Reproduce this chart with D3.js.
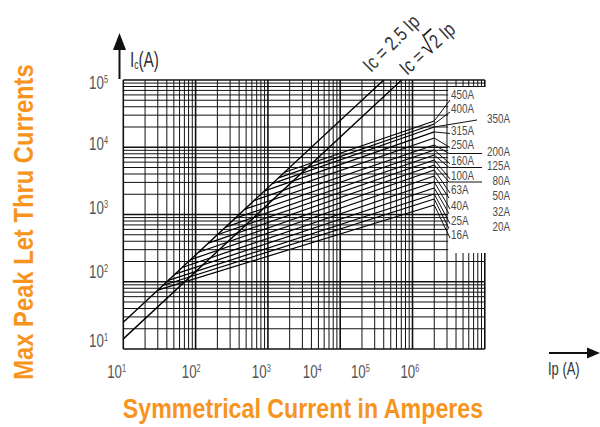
<!DOCTYPE html>
<html><head><meta charset="utf-8">
<script src="https://cdn.jsdelivr.net/npm/d3@7"></script>
<style>body{margin:0;background:#fff}svg{display:block}</style>
</head><body><svg id="c" width="600" height="427"></svg>
<script>
// ---------------- data ----------------
const ratings = ["16A","20A","25A","32A","40A","50A","63A","80A","100A","125A","160A","200A","250A","315A","350A","400A","450A"];
// point where each cut-off line leaves the Ic = 2.5 Ip line
const startIp = [30, 35, 42, 52, 65, 85, 110, 150, 200, 260, 350, 480, 650, 900, 1150, 1400, 1700];
const startIc = [75, 88, 105, 130, 163, 213, 275, 375, 500, 650, 875, 1200, 1625, 2250, 2875, 3500, 4250];
// end of each cut-off line
const endIp = [2e5,2e5,2e5,2e5,2e5,2e5,2e5,2e5,2e5,2e5,2e5,2e5,2e5,2e5,2e5,2e5,2e5];
const endIc = [1384, 1699, 2018, 2478, 3043, 3738, 4591, 5450, 6463, 7667, 9100, 10800, 13700, 16900, 20000, 22200, 24600];
// limit lines
const limitNames = ["Ic = 2.5 Ip", "Ic = √2 Ip"];
const limitIp = [[10, 40000], [10, 70711]];
const limitIc = [[25, 1e5], [14.14, 1e5]];
// tick labels
const xTickExp = ["1","2","3","4","5","6"];
const xTickAt = [8.1, 87, 810, 4100, 19000, 92000];   // where the printed labels sit
const yTickExp = ["1","2","3","4","5"];
const yTickAt = [13.6, 140, 1250, 11200, 92000];

// ---------------- layout ----------------
const FONT = "'Liberation Sans', Arial, Helvetica, sans-serif";
const ORANGE = "#F7941D";
const svg = d3.select("#c");
const x = d3.scaleLog().domain([10, 1e6]).range([123.3, 484.8]);
const y = d3.scaleLog().domain([10, 1e5]).range([349, 80]);

// label layout (side and vertical position of each rating label)
const labelSide = ["L","R","L","R","L","R","L","R","L","R","L","R","L","L","R","L","L"];
const labelY   = [235, 226.7, 220.7, 211.7, 206, 196, 190, 180.5, 176, 166, 160.7, 152, 144.5, 130.5, 119, 109, 95];

// ---------------- grid ----------------
const g = svg.append("g");
const vVals = [], hVals = [];
for (let d = 1; d <= 5; d++) for (let k = 1; k <= 9; k++) vVals.push(k * Math.pow(10, d));
vVals.push(1e6);
for (let d = 1; d <= 4; d++) for (let k = 1; k <= 9; k++) hVals.push(k * Math.pow(10, d));
hVals.push(1e5);
const isMajor = v => Math.abs(Math.log10(v) - Math.round(Math.log10(v))) < 1e-9;

g.selectAll("line.v").data(vVals).join("line")
  .attr("x1", d => x(d)).attr("x2", d => x(d))
  .attr("y1", y(1e5)).attr("y2", y(10))
  .attr("stroke", "#111").attr("stroke-width", d => isMajor(d) ? 1.6 : 1);
g.selectAll("line.h").data(hVals).join("line")
  .attr("y1", d => y(d)).attr("y2", d => y(d))
  .attr("x1", x(10)).attr("x2", x(1e6))
  .attr("stroke", "#111").attr("stroke-width", d => isMajor(d) ? 1.6 : 1);

// white label box on the right
svg.append("rect").attr("x", x(3e5) + 1.2).attr("y", 87)
  .attr("width", 50).attr("height", 166).attr("fill", "#fff");

// ---------------- curves ----------------
const line = d3.line().x(d => x(d[0])).y(d => y(d[1]));
svg.append("g").selectAll("path").data(limitIp.map((ips, i) => ips.map((p, j) => [p, limitIc[i][j]])))
  .join("path").attr("d", line).attr("fill", "none").attr("stroke", "#000").attr("stroke-width", 1.4);

const curves = ratings.map((r, i) => [[startIp[i], startIc[i]], [endIp[i], endIc[i]]]);
svg.append("g").selectAll("path").data(curves).join("path")
  .attr("d", line).attr("fill", "none").attr("stroke", "#000").attr("stroke-width", 1.2);

// ---------------- rating labels + leaders ----------------
const lg = svg.append("g");
ratings.forEach((r, i) => {
  const ex = x(endIp[i]), ey = y(endIc[i]);
  const ly = labelY[i];
  let pts;
  if (labelSide[i] === "L") {
    pts = [[ex, ey], [450, ly + (i === 16 ? 5 : 3)]];
  } else if (r === "350A") {
    pts = [[ex, ey], [477, ly + 1]];
  } else if (r === "200A" || r === "125A" || r === "80A") {
    pts = [[ex, ey], [449, ly + 1.5], [482, ly + 1.5]];
  } else {
    pts = [[ex, ey], [449, ly + 2]];
  }
  lg.append("path").attr("d", d3.line()(pts)).attr("fill", "none")
    .attr("stroke", "#111").attr("stroke-width", 1);
  const tx = labelSide[i] === "L" ? 451 : 510;
  lg.append("g").attr("transform", `translate(${tx},${ly + 4.3}) scale(0.82,1)`)
    .append("text").attr("font-family", FONT).attr("font-size", 12)
    .attr("fill", "#4a4a4a").attr("text-anchor", labelSide[i] === "L" ? "start" : "end")
    .text(r);
});

// ---------------- diagonal labels ----------------
function rotLabel(px, py, ang) {
  return svg.append("g").attr("transform", `translate(${px},${py}) rotate(${ang}) scale(0.8,1)`);
}
rotLabel(371, 73, -45).append("text").attr("font-family", FONT)
  .attr("font-size", 20).attr("fill", "#333").text(limitNames[0]);
{
  const gg = rotLabel(407, 76, -42);
  const t1 = gg.append("text").attr("font-family", FONT).attr("font-size", 20).attr("fill", "#333").text("Ic = ");
  const w1 = t1.node().getComputedTextLength() + 3;
  const t2 = gg.append("text").attr("x", w1).attr("font-family", FONT).attr("font-size", 26).attr("fill", "#111").text("√");
  const w2 = t2.node().getComputedTextLength();
  gg.append("text").attr("x", w1 + w2).attr("font-family", FONT).attr("font-size", 20).attr("fill", "#333").text("2 Ip");
  const w3 = gg.append("text").attr("font-size", 20).attr("font-family", FONT).attr("opacity", 0).text("2").node().getComputedTextLength();
  gg.append("line").attr("x1", w1 + w2 - 0.5).attr("x2", w1 + w2 + w3 + 1).attr("y1", -19).attr("y2", -19)
    .attr("stroke", "#111").attr("stroke-width", 1.6);
}

// ---------------- tick labels ----------------
function powLabel(parent, px, py, exp, anchor) {
  const t = parent.append("g").attr("transform", `translate(${px},${py}) scale(0.74,1)`)
    .append("text").attr("font-family", FONT).attr("font-size", 18).attr("fill", "#555")
    .attr("text-anchor", anchor);
  t.append("tspan").text("10");
  t.append("tspan").attr("font-size", 10).attr("dy", -6).text(exp);
}
const tl = svg.append("g");
xTickAt.forEach((v, i) => powLabel(tl, x(v), 378, xTickExp[i], "middle"));
yTickAt.forEach((v, i) => powLabel(tl, 108, y(v) + 6.5, yTickExp[i], "end"));

// ---------------- axes arrows ----------------
svg.append("line").attr("x1", 119.5).attr("x2", 119.5).attr("y1", 79).attr("y2", 48)
  .attr("stroke", "#111").attr("stroke-width", 2);
svg.append("path").attr("d", "M113,50 L119.5,33 L126,50 Z").attr("fill", "#111");
svg.append("line").attr("x1", 549).attr("x2", 589).attr("y1", 353).attr("y2", 353)
  .attr("stroke", "#111").attr("stroke-width", 2);
svg.append("path").attr("d", "M587,347.5 L600,353 L587,358.5 Z").attr("fill", "#111");

{
  const t = svg.append("g").attr("transform", "translate(130,66.7) scale(0.7,1)")
    .append("text").attr("font-family", FONT).attr("font-size", 22).attr("fill", "#333");
  t.append("tspan").text("I");
  t.append("tspan").attr("font-size", 12).attr("dy", 2).text("c");
  t.append("tspan").attr("dy", -2).text("(A)");
}
svg.append("g").attr("transform", "translate(548,375) scale(0.72,1)")
  .append("text").attr("font-family", FONT).attr("font-size", 18).attr("fill", "#333").text("Ip (A)");

// ---------------- titles ----------------
svg.append("g").attr("transform", "translate(23,222) rotate(-90) scale(0.88,1)")
  .append("text").attr("font-family", FONT).attr("font-weight", "bold").attr("font-size", 27)
  .attr("fill", ORANGE).attr("text-anchor", "middle").attr("dy", "0.36em")
  .text("Max Peak Let Thru Currents");
svg.append("g").attr("transform", "translate(303,418) scale(0.86,1)")
  .append("text").attr("font-family", FONT).attr("font-weight", "bold").attr("font-size", 27)
  .attr("fill", ORANGE).attr("text-anchor", "middle")
  .text("Symmetrical Current in Amperes");
</script></body></html>
